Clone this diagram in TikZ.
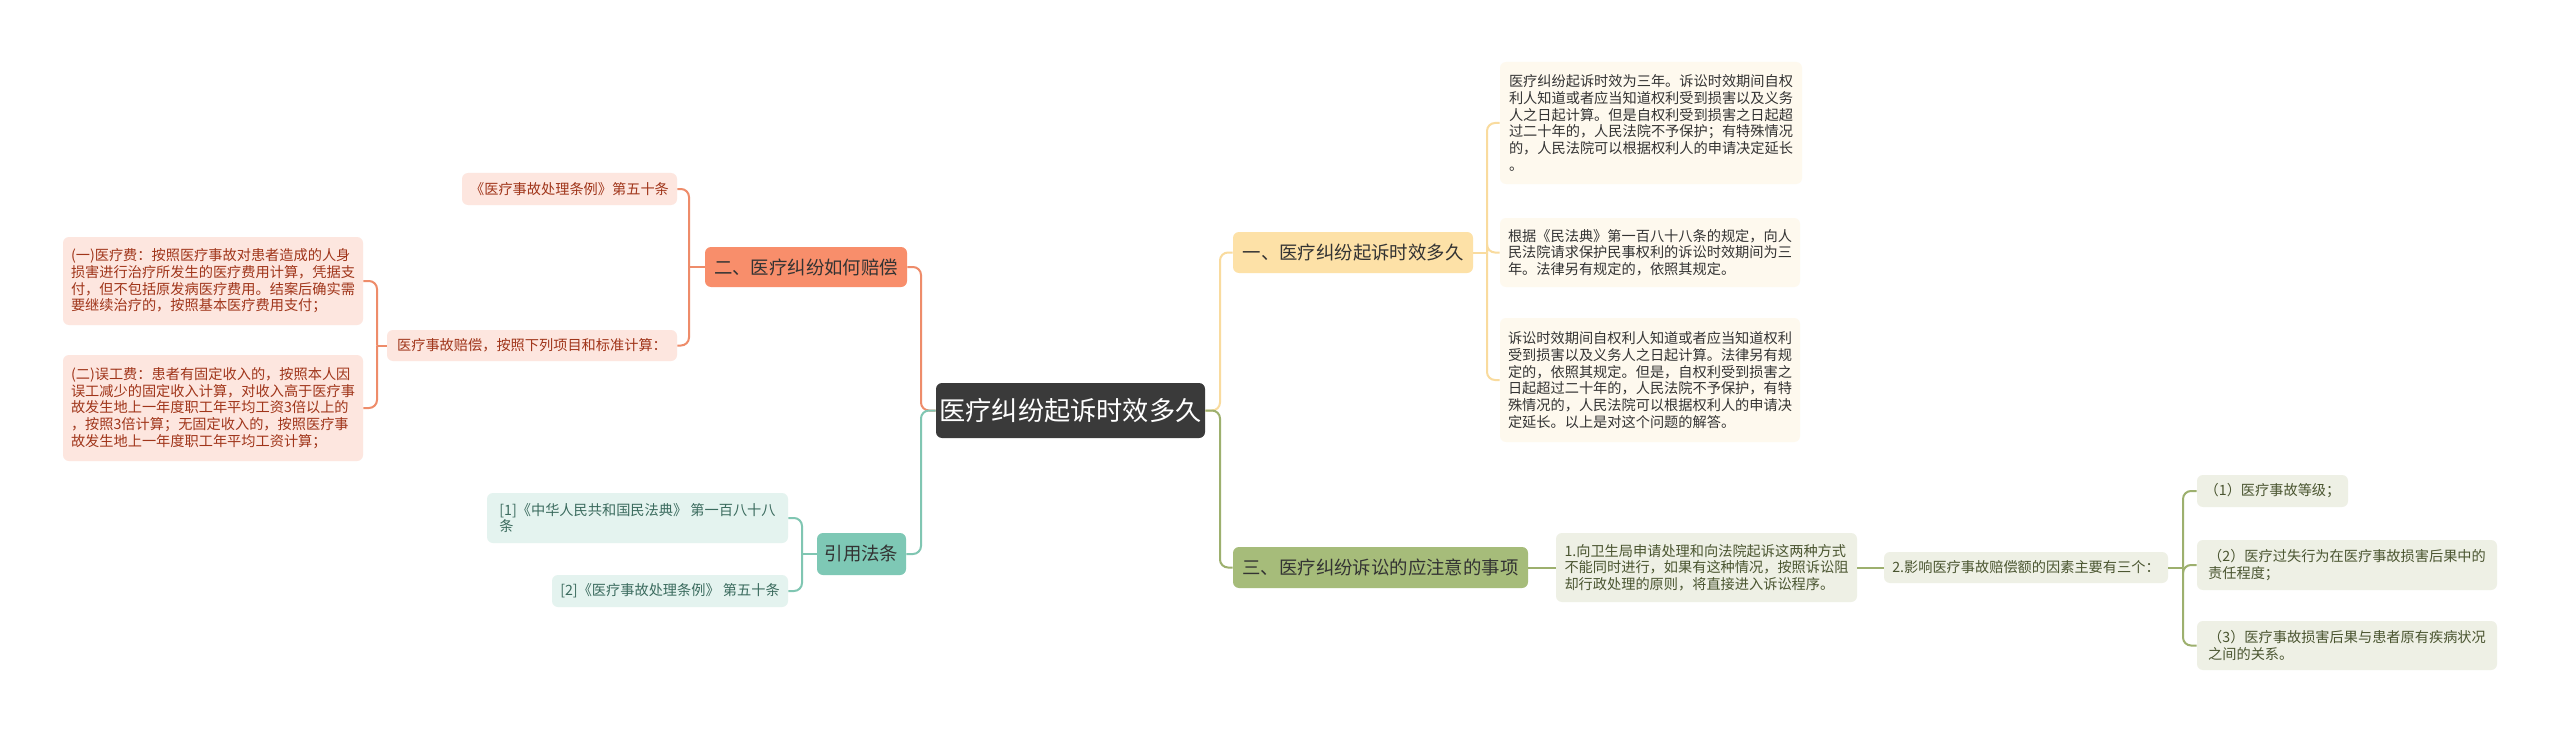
\documentclass[tikz,border=0pt]{standalone}
\usepackage{fontspec}
\setmainfont{Noto Sans CJK SC}
\begin{document}
\begin{tikzpicture}[x=0.5pt,y=-0.5pt,
  box/.style={rounded corners=3pt,inner sep=0pt,align=left},
  leaf/.style={box,font=\fontsize{7.1pt}{8.35pt}\selectfont},
  br/.style={box,font=\fontsize{9.2pt}{11pt}\selectfont,text=black!80},
  leafY/.style={leaf,fill=yellowleaf,text=black!80},
  leafO/.style={leaf,fill=orangeleaf,text=orangetext},
  leafT/.style={leaf,fill=tealleaf,text=tealtext},
  leafG/.style={leaf,fill=greenleaf,text=greentext},
  con/.style={line width=1pt,rounded corners=4pt},
]
\definecolor{yellowleaf}{HTML}{FEF9EE}
\definecolor{yellowbr}{HTML}{FDE1A7}
\definecolor{yellowline}{HTML}{F9DB9E}
\definecolor{orangeleaf}{HTML}{FDE6DF}
\definecolor{orangebr}{HTML}{F88E6B}
\definecolor{orangeline}{HTML}{EE8C6A}
\definecolor{orangetext}{HTML}{A0351A}
\definecolor{tealleaf}{HTML}{E4F3EF}
\definecolor{tealbr}{HTML}{7EC8B5}
\definecolor{tealline}{HTML}{80C6B2}
\definecolor{tealtext}{HTML}{3B6B5E}
\definecolor{greenleaf}{HTML}{EEF0E5}
\definecolor{greenbr}{HTML}{A6BC7A}
\definecolor{greenline}{HTML}{9DB06E}
\definecolor{greentext}{HTML}{4A5530}
\definecolor{rootfill}{HTML}{3A3A3A}

\useasboundingbox[fill=white] (0,0) rectangle (2560,733);

% root
\node[box,fill=rootfill,text=white,font=\fontsize{13.1pt}{16pt}\selectfont,
  minimum width=134.5pt,minimum height=27.5pt] (root) at (1070.5,410.5) {医疗纠纷起诉时效多久};

% branches
\node[br,fill=yellowbr,minimum width=120pt,minimum height=20.5pt] (b1) at (1353,252.5) {一、医疗纠纷起诉时效多久};
\node[br,fill=greenbr,minimum width=147.5pt,minimum height=20.5pt] (b3) at (1380.5,567.5) {三、医疗纠纷诉讼的应注意的事项};
\node[br,fill=orangebr,minimum width=101pt,minimum height=20pt] (b2) at (806,267) {二、医疗纠纷如何赔偿};
\node[br,fill=tealbr,minimum width=44.5pt,minimum height=21pt] (b4) at (861.5,554) {引用法条};

% branch 1 leaves
\node[leafY,minimum width=151pt,minimum height=61pt] (l1a) at (1651,123) {医疗纠纷起诉时效为三年。诉讼时效期间自权\\利人知道或者应当知道权利受到损害以及义务\\人之日起计算。但是自权利受到损害之日起超\\过二十年的，人民法院不予保护；有特殊情况\\的，人民法院可以根据权利人的申请决定延长\\。};
\node[leafY,minimum width=150pt,minimum height=34.5pt] (l1b) at (1650,252.5) {根据《民法典》第一百八十八条的规定，向人\\民法院请求保护民事权利的诉讼时效期间为三\\年。法律另有规定的，依照其规定。};
\node[leafY,minimum width=150pt,minimum height=62pt] (l1c) at (1650,380) {诉讼时效期间自权利人知道或者应当知道权利\\受到损害以及义务人之日起计算。法律另有规\\定的，依照其规定。但是，自权利受到损害之\\日起超过二十年的，人民法院不予保护，有特\\殊情况的，人民法院可以根据权利人的申请决\\定延长。以上是对这个问题的解答。};

% branch 2 leaves
\node[leafO,minimum width=107.5pt,minimum height=16pt] (l2a) at (569.5,189) {《医疗事故处理条例》第五十条};
\node[leafO,minimum width=145pt,minimum height=15.5pt] (l2b) at (532,345.5) {医疗事故赔偿，按照下列项目和标准计算：};
\node[leafO,minimum width=150pt,minimum height=44pt] (l2c) at (213,281) {(一)医疗费：按照医疗事故对患者造成的人身\\损害进行治疗所发生的医疗费用计算，凭据支\\付，但不包括原发病医疗费用。结案后确实需\\要继续治疗的，按照基本医疗费用支付；};
\node[leafO,minimum width=150pt,minimum height=53pt] (l2d) at (213,408) {(二)误工费：患者有固定收入的，按照本人因\\误工减少的固定收入计算，对收入高于医疗事\\故发生地上一年度职工年平均工资3倍以上的\\，按照3倍计算；无固定收入的，按照医疗事\\故发生地上一年度职工年平均工资计算；};

% branch 4 leaves
\node[leafT,minimum width=150.5pt,minimum height=25pt] (l4a) at (637.5,518) {[1]《中华人民共和国民法典》 第一百八十八\\条};
\node[leafT,minimum width=118pt,minimum height=16pt] (l4b) at (670,591) {[2]《医疗事故处理条例》 第五十条};

% branch 3 leaves
\node[leafG,minimum width=150.5pt,minimum height=34.5pt] (l3a) at (1706.5,567.5) {1.向卫生局申请处理和向法院起诉这两种方式\\不能同时进行，如果有这种情况，按照诉讼阻\\却行政处理的原则，将直接进入诉讼程序。};
\node[leafG,minimum width=142pt,minimum height=15.5pt] (l3b) at (2026,567.5) {2.影响医疗事故赔偿额的因素主要有三个：};
\node[leafG,minimum width=75.5pt,minimum height=16pt] (l3c) at (2272.5,491) {（1）医疗事故等级；};
\node[leafG,minimum width=150pt,minimum height=25pt] (l3d) at (2347,565) {（2）医疗过失行为在医疗事故损害后果中的\\责任程度；};
\node[leafG,minimum width=150pt,minimum height=24.5pt] (l3e) at (2347,645.5) {（3）医疗事故损害后果与患者原有疾病状况\\之间的关系。};

% junctions
\coordinate (jL) at (921,410.5);
\coordinate (jR) at (1220,410.5);
\coordinate (j1) at (1487,252.5);
\coordinate (j2) at (689,267);
\coordinate (j2b) at (377,345.5);
\coordinate (j4) at (802,554);
\coordinate (j3) at (2183,567.5);

% root connectors
\draw[con,orangeline] (root.west) -- (jL) |- (b2.east);
\draw[con,tealline] (root.west) -- (jL) |- (b4.east);
\draw[con,yellowline] (root.east) -- (jR) |- (b1.west);
\draw[con,greenline] (root.east) -- (jR) |- (b3.west);

% branch 1
\draw[con,yellowline] (b1.east) -- (j1);
\draw[con,yellowline] (j1) |- (l1a.west);
\draw[con,yellowline] (j1) |- (l1b.west);
\draw[con,yellowline] (j1) |- (l1c.west);

% branch 2
\draw[con,orangeline] (b2.west) -- (j2);
\draw[con,orangeline] (j2) |- (l2a.east);
\draw[con,orangeline] (j2) |- (l2b.east);
\draw[con,orangeline] (l2b.west) -- (j2b);
\draw[con,orangeline] (j2b) |- (l2c.east);
\draw[con,orangeline] (j2b) |- (l2d.east);

% branch 4
\draw[con,tealline] (b4.west) -- (j4);
\draw[con,tealline] (j4) |- (l4a.east);
\draw[con,tealline] (j4) |- (l4b.east);

% branch 3
\draw[con,greenline] (b3.east) -- (l3a.west);
\draw[con,greenline] (l3a.east) -- (l3b.west);
\draw[con,greenline] (l3b.east) -- (j3);
\draw[con,greenline] (j3) |- (l3c.west);
\draw[con,greenline] (j3) |- (l3d.west);
\draw[con,greenline] (j3) |- (l3e.west);
\end{tikzpicture}
\end{document}
